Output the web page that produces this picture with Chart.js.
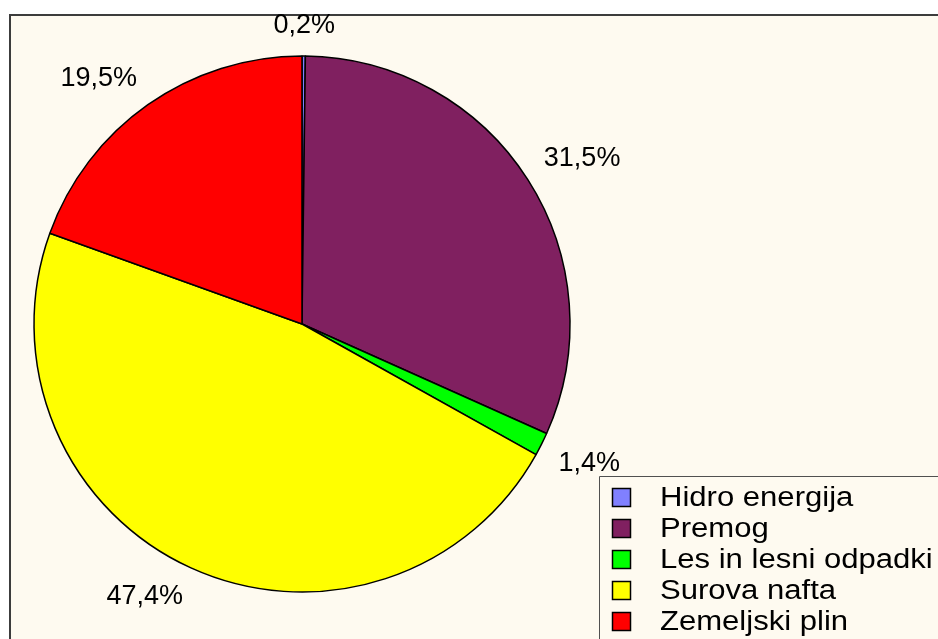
<!DOCTYPE html>
<html>
<head>
<meta charset="utf-8">
<script src="https://cdn.jsdelivr.net/npm/chart.js@4"></script>
<style>
    html, body { margin: 0; padding: 0; background: #fff; }
    canvas { display: block; }
</style>
</head>
<body>
<canvas id="pie-chart" width="938" height="639"></canvas>
<script>
// Data
const categories = ['Hidro energija', 'Premog', 'Les in lesni odpadki', 'Surova nafta', 'Zemeljski plin'];
const shares = [0.2, 31.5, 1.4, 47.4, 19.5];
const sliceColors = ['#8080ff', '#802060', '#00ff00', '#ffff00', '#ff0000'];

const FONT = '27px "Liberation Sans", Arial, sans-serif';
const PLOT_BG = '#fefaf0';

function formatShare(v) {
    return v.toFixed(1).replace('.', ',') + '%';
}

function clamp(v) {
    return Math.max(-1, Math.min(1, v));
}

// Cream plot area with the dark frame on top/left
const framePlugin = {
    id: 'frame',
    beforeDraw(chart) {
        const ctx = chart.ctx;
        ctx.save();
        ctx.fillStyle = '#ffffff';
        ctx.fillRect(0, 0, chart.width, chart.height);
        ctx.fillStyle = PLOT_BG;
        ctx.fillRect(9, 14, chart.width - 9, chart.height - 14);
        ctx.strokeStyle = '#3c3c3c';
        ctx.lineWidth = 2;
        ctx.beginPath();
        ctx.moveTo(10, chart.height);
        ctx.lineTo(10, 15);
        ctx.lineTo(chart.width, 15);
        ctx.stroke();
        ctx.restore();
    }
};

// Percentage labels outside each slice (box corner hangs on a point just past the rim)
const shareLabels = {
    id: 'shareLabels',
    afterDatasetsDraw(chart) {
        const ctx = chart.ctx;
        const meta = chart.getDatasetMeta(0);
        ctx.save();
        ctx.font = FONT;
        ctx.fillStyle = '#000';
        ctx.textAlign = 'center';
        ctx.textBaseline = 'middle';
        meta.data.forEach((arc, i) => {
            const p = arc.getProps(['x', 'y', 'startAngle', 'endAngle', 'outerRadius'], true);
            const mid = (p.startAngle + p.endAngle) / 2;
            const dx = Math.cos(mid);
            const dy = Math.sin(mid);
            const text = formatShare(chart.data.datasets[0].data[i]);
            const hw = ctx.measureText(text).width / 2;
            const hh = 11;
            const R = p.outerRadius + 19;
            const ax = p.x + dx * R;
            const ay = p.y + dy * R;
            ctx.fillText(text, ax + hw * clamp(dx * 2.5), ay + hh * clamp(dy * 2.5));
        });
        ctx.restore();
    }
};

// Legend box in the lower right corner
const boxLegend = {
    id: 'boxLegend',
    afterDraw(chart) {
        const ctx = chart.ctx;
        const left = 599, top = 476, rowH = 31;
        ctx.save();
        ctx.fillStyle = PLOT_BG;
        ctx.fillRect(left, top, chart.width - left, chart.height - top);
        ctx.strokeStyle = '#505050';
        ctx.lineWidth = 1;
        ctx.beginPath();
        ctx.moveTo(left + 0.5, chart.height);
        ctx.lineTo(left + 0.5, top + 0.5);
        ctx.lineTo(chart.width, top + 0.5);
        ctx.stroke();

        ctx.font = FONT;
        ctx.textBaseline = 'middle';
        chart.data.labels.forEach((label, i) => {
            const cy = top + 22 + i * rowH;
            ctx.fillStyle = chart.data.datasets[0].backgroundColor[i];
            ctx.fillRect(613, cy - 9, 17, 17);
            ctx.strokeStyle = '#000';
            ctx.lineWidth = 1.5;
            ctx.strokeRect(612.5, cy - 9.5, 18, 18);
            // legend text is drawn a bit wider than the slice labels
            ctx.save();
            ctx.translate(660, cy + 1);
            ctx.scale(1.15, 1);
            ctx.fillStyle = '#000';
            ctx.fillText(label, 0, 0);
            ctx.restore();
        });
        ctx.restore();
    }
};

const pieChart = new Chart(document.getElementById('pie-chart'), {
    type: 'pie',
    data: {
        labels: categories,
        datasets: [{
            data: shares,
            backgroundColor: sliceColors,
            borderColor: '#000',
            borderWidth: 1.5
        }]
    },
    options: {
        responsive: false,
        animation: false,
        radius: 268,
        layout: {
            padding: { left: 34, top: 56, right: 368, bottom: 47 }
        },
        plugins: {
            legend: { display: false },
            tooltip: { enabled: false }
        }
    },
    plugins: [framePlugin, shareLabels, boxLegend]
});
</script>
</body>
</html>
